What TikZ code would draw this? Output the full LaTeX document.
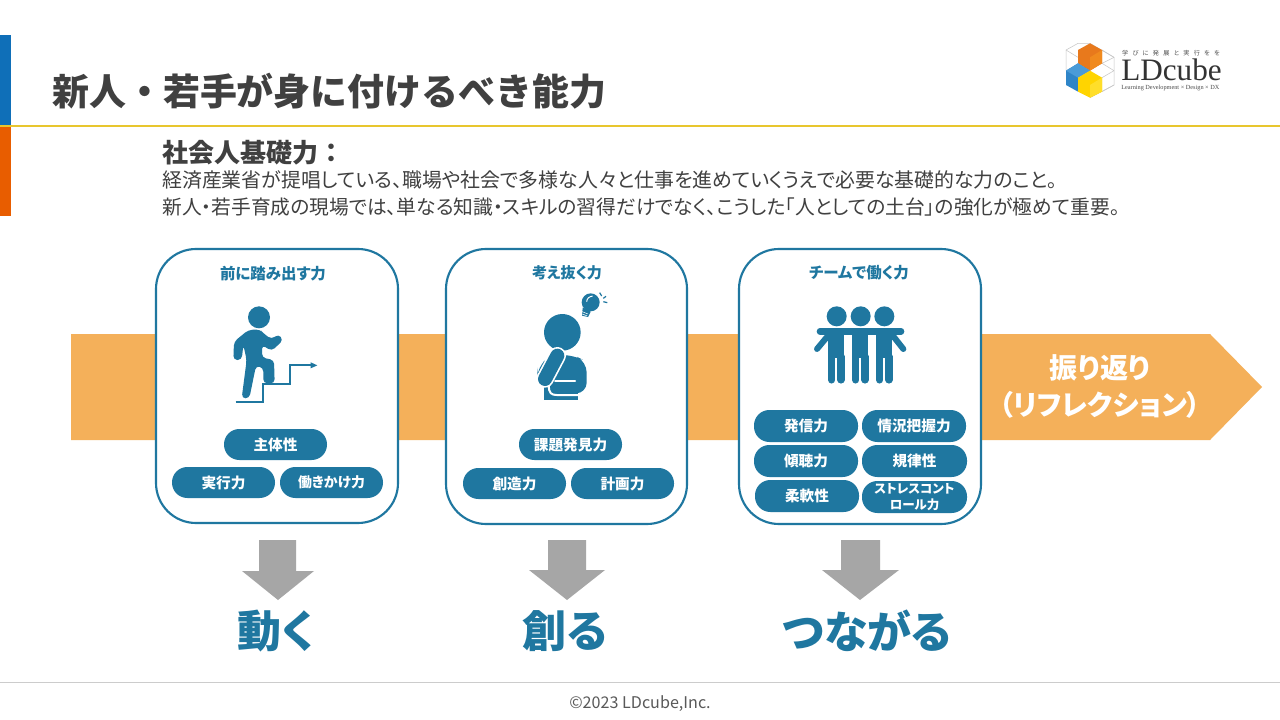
\documentclass[tikz,border=0pt]{standalone}
\usepackage{fontspec}
\setmainfont{Noto Sans CJK JP}[RawFeature=+palt]
\newfontfamily\fixedjp{Noto Sans CJK JP}
\newfontfamily\logofont{Liberation Serif}
\definecolor{tealb}{HTML}{1F77A0}
\definecolor{bandc}{HTML}{F4B05A}
\definecolor{dark}{HTML}{404040}
\definecolor{greyarr}{HTML}{A6A6A6}
\definecolor{barblue}{HTML}{0F6FB8}
\definecolor{barorange}{HTML}{E85D00}
\definecolor{ruley}{HTML}{E8C62E}
\definecolor{cubeo}{HTML}{E8791C}
\definecolor{cubeod}{HTML}{F08A1E}
\definecolor{cubeb}{HTML}{2F85C8}
\definecolor{cubeb2}{HTML}{4A9BD8}
\definecolor{cubey}{HTML}{FFD400}
\definecolor{cubey2}{HTML}{FFDE2A}
\newcommand{\fs}[1]{\fontsize{#1}{#1}\selectfont}
\tikzset{
 card/.style={draw=tealb,line width=1.6pt,fill=white,rounded corners=30pt},
 pill/.style={fill=tealb,rounded corners=11.5pt,text=white,font=\fs{11}\bfseries,align=center,inner sep=0pt},
 cardtitle/.style={text=tealb,font=\fs{11.6}\bfseries,inner sep=0pt},
 bigword/.style={text=tealb,font=\fs{33}\bfseries,inner sep=0pt},
 body/.style={text=dark,anchor=west,inner sep=0pt},
 zoomed/.style={x=0.25pt,y=-0.25pt},
 wire/.style={draw=black!22,line width=0.4pt},
}
\newcommand{\pillnode}[6]{% name x1 y1 x2 y2 text
 \node[pill,minimum width={(#4-#2)*0.75pt},minimum height={(#5-#3)*0.75pt}] (#1) at ({(#2+#4)/2},{(#3+#5)/2}) {#6};}
\begin{document}
\begin{tikzpicture}[x=0.75pt,y=-0.75pt]
\useasboundingbox (0,0) rectangle (1280,720);
% header
\fill[white] (0,0) rectangle (1280,720);
\fill[barblue] (0,35) rectangle (11,125);
\fill[barorange] (0,127) rectangle (11,216);
\draw[draw=ruley,line width=1.4pt] (0,126) -- (1280,126);
\node[anchor=west,text=dark,font=\fs{27.7}\bfseries,inner sep=0pt] (title) at (52,91) {\fixedjp 新人・若手が身に付けるべき能力};
\node[anchor=west,text=dark,font=\fs{19.5}\bfseries,inner sep=0pt] (sub) at (162,153) {\fixedjp 社会人基礎力：};
\node[body,font=\fs{14.93}] (l1) at (162,180) {経済産業省が提唱している、職場や社会で多様な人々と仕事を進めていくうえで必要な基礎的な力のこと。};
\node[body,font=\fs{14.8}] (l2) at (162,207) {新人・若手育成の現場では、単なる知識・スキルの習得だけでなく、こうした「人としての土台」の強化が極めて重要。};
% logo
\begin{scope}[shift={(1040,30)},x=0.25pt,y=-0.25pt]
 \draw[wire] (78,122)--(78,60)--(114,40)--(150,40)--(222,82)--(222,165)--(150,203);
 \draw[wire] (186,60)--(222,82) (186,100)--(222,122) (186,143)--(222,122) (186,100)--(222,82) (186,185)--(222,165) (78,60)--(114,82);
 \fill[cubeo] (150,40)--(186,60)--(186,100)--(150,122)--(114,100)--(114,60)--cycle;
 \fill[cubeod] (150,82)--(186,60)--(186,100)--(150,122)--cycle;
 \fill[cubeb] (114,100)--(150,122)--(114,143)--(114,185)--(78,165)--(78,122)--cycle;
 \fill[cubeb2] (114,100)--(150,122)--(114,143)--(78,122)--cycle;
 \fill[cubey] (150,122)--(186,143)--(186,185)--(150,203)--(114,185)--(114,143)--cycle;
 \fill[cubey2] (150,165)--(186,143)--(186,185)--(150,203)--cycle;
\end{scope}
\node[text=black!80,font=\logofont\fs{23.4},inner sep=0pt,anchor=base west] (lg) at (1121,81) {LDcube};
\node[text=black!70,font=\logofont\fs{4.7},inner sep=0pt,anchor=base west] (lg2) at (1121,90) {Learning Development × Design × DX};
\node[text=black!70,font=\fs{4.6},inner sep=0pt] (lg3) at (1171,53) {学\hspace{3.2pt}び\hspace{3.2pt}に\hspace{3.2pt}発\hspace{3.2pt}展\hspace{3.2pt}と\hspace{3.2pt}実\hspace{3.2pt}行\hspace{3.2pt}を\hspace{3.2pt}を};
% band
\fill[bandc] (71,334) -- (1210,334) -- (1262,387) -- (1210,440) -- (71,440) -- cycle;
\node[text=white,font=\fs{21}\bfseries,inner sep=0pt] (rf1) at (1100,368) {振り返り};
\node[text=white,font=\fs{21}\bfseries,inner sep=0pt] (rf2) at (1100,405) {（リフレクション）};
% cards
\draw[card] (156,249) rectangle (398,523);
\draw[card] (446,249) rectangle (687,524);
\draw[card] (739,249) rectangle (981,524);
\node[cardtitle] (t1) at (273,274) {前に踏み出す力};
\node[cardtitle,font=\fs{11.3}\bfseries] (t2) at (567,273) {考え抜く力};
\node[cardtitle] (t3) at (859,273) {チームで働く力};
\pillnode{a1}{224}{429}{327}{460}{主体性}
\pillnode{a2}{172}{467}{275}{498}{実行力}
\pillnode{a3}{280}{467}{383}{498}{\fs{10.4}働きかけ力}
\pillnode{b1}{519}{429}{622}{460}{課題発見力}
\pillnode{b2}{463}{468}{566}{499}{創造力}
\pillnode{b3}{571}{468}{674}{499}{計画力}
\pillnode{c1}{754}{410}{858}{442}{発信力}
\pillnode{c2}{862}{410}{966}{442}{情況把握力}
\pillnode{c3}{754}{445}{858}{477}{傾聴力}
\pillnode{c4}{862}{445}{967}{477}{規律性}
\pillnode{c5}{755}{480}{859}{512}{柔軟性}
\node[pill,minimum width=78.75pt,minimum height=24pt,font=\fs{9.4}\bfseries] (c6) at (914.5,497) {ストレスコント\\[3pt]ロール力};
% stepper
\begin{scope}[shift={(150,245)},zoomed]
 \fill[tealb] (327,217) circle (33);
 \fill[tealb,rounded corners=3pt] (295,255)--(330,253)--(340,265)--(365,283)--(385,267)--(400,285)--(365,318)--(336,300)--(336,338)--(372,345)--(374,415)--(340,415)--(340,368)--(318,362)--(298,460)--(275,460)--(290,345)--(280,300)--(275,345)--(250,345)--(252,290)--cycle;
 \draw[tealb,line width=1.3pt] (257,471)--(338,471)--(338,417)--(419,417)--(419,361)--(488,361);
 \fill[tealb] (502,361)--(482,352)--(482,370)--cycle;
\end{scope}
% thinker
\begin{scope}[shift={(440,245)},zoomed]
 \fill[tealb] (367,262) circle (55);
 \fill[tealb,rounded corners=8pt] (335,330)--(400,330)--(440,350)--(440,445)--(340,445)--(312,430)--(292,400)--(292,365)--cycle;
 \fill[tealb] (312,420) rectangle (415,466);
 \draw[white,line width=1.5pt,line cap=round] (345,407)--(405,407);
 \draw[white,line width=1.5pt] (327,420) .. controls (325,445) and (335,450) .. (350,450) -- (445,450);
 \draw[white,line width=13pt,line cap=round] (352,332)--(315,402);
 \draw[tealb,line width=10.5pt,line cap=round] (352,332)--(315,402);
 \fill[tealb] (452,172) circle (27);
 \fill[tealb] (428,188)--(452,200)--(444,216)--(426,212)--cycle;
 \draw[white,line width=0.4pt] (424,199)--(444,207) (422,205)--(442,213);
 \draw[white,line width=0.7pt] (440,170) .. controls (441,160) and (447,155) .. (458,153);
 \draw[tealb,line width=0.9pt] (479,143)--(485,153) (490,160)--(498,154) (490,170)--(502,173);
\end{scope}
% team
\begin{scope}[shift={(735,245)},zoomed]
 \fill[tealb] (305,214) circle (30) (377,214) circle (30) (448,214) circle (30);
 \draw[tealb,line width=5pt,line cap=round] (255,259)--(498,259);
 \draw[tealb,line width=4.5pt,line cap=round] (285,265)--(246,312) (468,265)--(505,312);
 \foreach \cx in {304,376,448}{
  \fill[tealb] (\cx-24,260) rectangle (\cx+24,340);
  \draw[tealb,line width=5.3pt,line cap=round] (\cx-14,335)--(\cx-14,405) (\cx+14,335)--(\cx+14,405);
 }
\end{scope}
% arrows
\fill[greyarr] (259,540)--(296,540)--(296,571)--(314,571)--(278,600)--(242,571)--(259,571)--cycle;
\fill[greyarr] (548,540)--(586,540)--(586,570)--(605,570)--(567,600)--(529,570)--(548,570)--cycle;
\fill[greyarr] (841,540)--(880,540)--(880,570)--(899,570)--(860,600)--(822,570)--(841,570)--cycle;
\node[bigword] (w1) at (276,631) {動く};
\node[bigword] (w2) at (565,631) {創る};
\node[bigword] (w3) at (867,631) {つながる};
% footer
\draw[draw=black!20,line width=0.6pt] (0,682)--(1280,682);
\node[text=black!65,font=\fs{12.1},inner sep=0pt] (foot) at (640,703.5) {©2023 LDcube,Inc.};
\end{tikzpicture}
\end{document}
